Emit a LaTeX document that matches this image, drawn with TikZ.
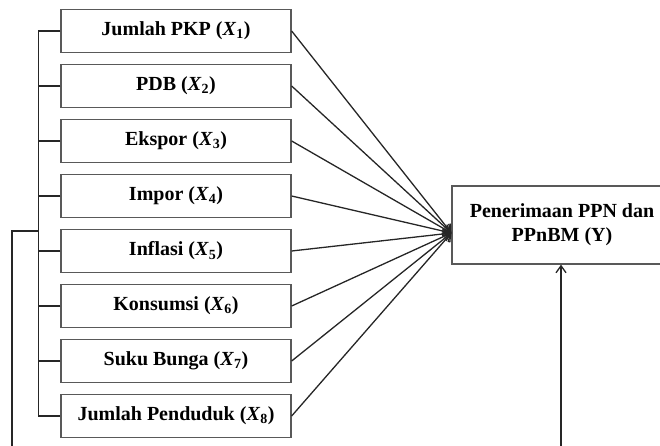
\documentclass[tikz,border=0pt]{standalone}
\usepackage{fontspec}
\setmainfont{Liberation Serif}
\usetikzlibrary{positioning, arrows.meta}

\begin{document}
\begin{tikzpicture}[x=1pt, y=-1pt, node distance=10.7pt, >={Straight Barb[length=7pt, width=10pt]},
      var/.style={draw=black!65, line width=1.3pt, minimum width=230pt, minimum height=43pt, inner sep=0pt,
        font=\fontsize{20}{24}\selectfont\bfseries},
      link/.style={line width=1.3pt, black!85}]
    \path[use as bounding box, clip] (0,0) rectangle (660,446);

    \node[var] (x1) at (176,31) {Jumlah PKP (\textit{X}\textsubscript{1})};
    \node[var, below=of x1] (x2) {PDB (\textit{X}\textsubscript{2})};
    \node[var, below=of x2] (x3) {Ekspor (\textit{X}\textsubscript{3})};
    \node[var, below=of x3] (x4) {Impor (\textit{X}\textsubscript{4})};
    \node[var, below=of x4] (x5) {Inflasi (\textit{X}\textsubscript{5})};
    \node[var, below=of x5] (x6) {Konsumsi (\textit{X}\textsubscript{6})};
    \node[var, below=of x6] (x7) {Suku Bunga (\textit{X}\textsubscript{7})};
    \node[var, below=of x7] (x8) {Jumlah Penduduk (\textit{X}\textsubscript{8})};
    \node[var, minimum width=220pt, minimum height=78pt, align=center] (ppn) at (562,225)
      {Penerimaan PPN dan\\PPnBM (Y)};

    \coordinate (hub) at ([yshift=-8pt]ppn.west);
    \coordinate (join) at (39,231);
    \coordinate (src) at (12,446);
    \coordinate (feed) at (561,446);

    % all variables point to Y
    \foreach \i in {1,...,8}
      \draw[->, link] (x\i.east) -- (hub);

    % bracket on the left
    \draw[link] (x1.west) -- ++(-22,0) |- (x8.west);
    \foreach \i in {2,...,7}
      \draw[link] (x\i.west) -- ++(-22,0);
    \draw[link] (src) |- (join);

    \draw[->, link] (feed) -- (feed |- ppn.south);
  \end{tikzpicture}
\end{document}
